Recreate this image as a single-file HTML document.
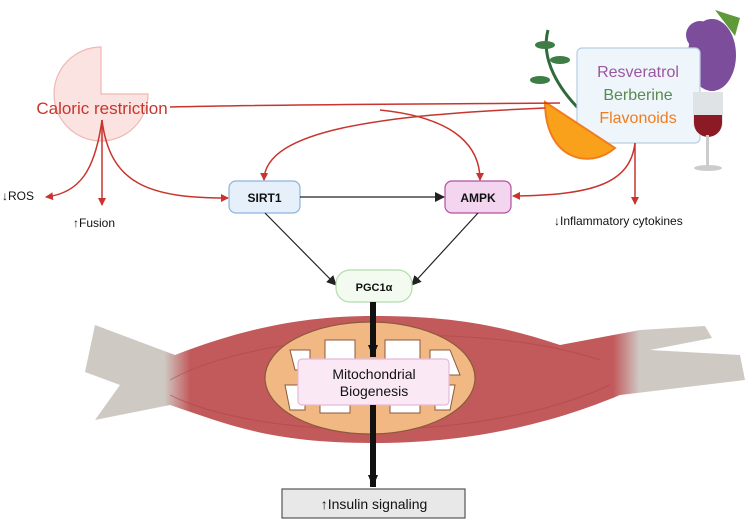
<!DOCTYPE html>
<html><head><meta charset="utf-8"><style>
body{margin:0;background:#fff;}
svg{display:block;font-family:"Liberation Sans",sans-serif;}
</style></head><body>
<svg width="751" height="521" viewBox="0 0 751 521" xmlns="http://www.w3.org/2000/svg">
<defs>
<marker id="r" markerWidth="8" markerHeight="8" refX="7" refY="4" orient="auto" markerUnits="userSpaceOnUse"><path d="M0,0 L8,4 L0,8z" fill="#c8352e"/></marker>
<marker id="k" markerWidth="10" markerHeight="10" refX="9" refY="5" orient="auto" markerUnits="userSpaceOnUse"><path d="M0,0 L10,5 L0,10z" fill="#222"/></marker>
<marker id="kb" markerWidth="14" markerHeight="14" refX="12" refY="7" orient="auto" markerUnits="userSpaceOnUse"><path d="M0,2 L12,7 L0,12z" fill="#111"/></marker>
<linearGradient id="mg" x1="0" y1="0" x2="1" y2="0">
<stop offset="0" stop-color="#cfc9c3"/><stop offset="0.12" stop-color="#cfc9c3"/><stop offset="0.16" stop-color="#c2595a"/><stop offset="0.8" stop-color="#c2595a"/><stop offset="0.84" stop-color="#cfc9c3"/><stop offset="1" stop-color="#cfc9c3"/>
</linearGradient>
</defs>

<!-- pie -->
<path d="M101,47 A47,47 0 1 0 148,94 L101,94 Z" fill="#fbe3e1" stroke="#f0b7b2" stroke-width="1.2"/>
<text x="102" y="114" font-size="17" fill="#c8352e" text-anchor="middle">Caloric restriction</text>

<!-- muscle -->
<path d="M95,325 L175,355 C240,330 300,316 373,316 C450,316 500,325 560,345 L640,330 L705,326 L712,338 L650,350 L740,355 L745,380 L620,395 C560,420 480,443 373,443 C270,443 230,425 170,405 L95,420 L120,385 L85,372 Z" fill="url(#mg)"/>
<path d="M170,380 C260,330 480,320 600,360" stroke="#a94446" stroke-width="1" fill="none" opacity="0.5"/>
<path d="M170,395 C260,440 480,445 610,385" stroke="#a94446" stroke-width="1" fill="none" opacity="0.5"/>
<!-- mitochondrion -->
<ellipse cx="370" cy="378" rx="105" ry="56" fill="#f2b883" stroke="#8b5a3c" stroke-width="1.2"/>
<path d="M290,350 h20 v20 h-15 z M325,340 h30 v25 h-30z M385,340 h35 v22 h-35z M430,350 h20 l10 25 h-30z M285,385 h20 v25 h-15z M320,395 h30 v18 h-30z M390,395 h30 v18 h-30z M435,385 h20 l-5 25 h-15z" fill="#fff" stroke="#8b5a3c" stroke-width="1"/>

<!-- compound box & decorations -->
<path d="M548,30 C540,60 560,90 580,110" stroke="#2f6b3a" stroke-width="3" fill="none"/>
<ellipse cx="545" cy="45" rx="10" ry="4" fill="#3e7d46"/>
<ellipse cx="560" cy="60" rx="10" ry="4" fill="#3e7d46"/>
<ellipse cx="540" cy="80" rx="10" ry="4" fill="#3e7d46"/>
<ellipse cx="712" cy="55" rx="24" ry="36" fill="#7b4d9a"/>
<ellipse cx="700" cy="35" rx="14" ry="14" fill="#7b4d9a"/>
<path d="M715,10 l25,8 l-5,18z" fill="#5e9a3a"/>
<rect x="577" y="48" width="123" height="95" rx="5" fill="#eef5fb" stroke="#b8cfe4" stroke-width="1.2"/>
<text x="638" y="77" font-size="16" fill="#9b56a0" text-anchor="middle">Resveratrol</text>
<text x="638" y="100" font-size="16" fill="#5a8a52" text-anchor="middle">Berberine</text>
<text x="638" y="123" font-size="16" fill="#f07d1e" text-anchor="middle">Flavonoids</text>
<path d="M545,102 L615,148 C590,170 545,160 545,102 Z" fill="#f9a11b" stroke="#f07d1e" stroke-width="2"/>
<path d="M693,92 h30 v30 a15,15 0 0 1 -30,0z" fill="#dfe3e6"/>
<path d="M694,115 h28 v8 a14,14 0 0 1 -28,0z" fill="#8b1a25"/>
<rect x="706" y="135" width="3" height="32" fill="#ccc"/>
<ellipse cx="708" cy="168" rx="14" ry="3" fill="#ccc"/>

<!-- red arrows -->
<path d="M170,107 C300,104 450,104 560,103" stroke="#c8352e" stroke-width="1.5" fill="none"/>
<path d="M545,108 C380,115 265,130 264,180" stroke="#c8352e" stroke-width="1.5" fill="none" marker-end="url(#r)"/>
<path d="M380,110 C460,118 480,150 480,180" stroke="#c8352e" stroke-width="1.5" fill="none" marker-end="url(#r)"/>
<path d="M102,120 C95,170 80,193 46,197" stroke="#c8352e" stroke-width="1.5" fill="none" marker-end="url(#r)"/>
<path d="M102,120 L102,205" stroke="#c8352e" stroke-width="1.5" fill="none" marker-end="url(#r)"/>
<path d="M102,120 C110,185 150,198 228,198" stroke="#c8352e" stroke-width="1.5" fill="none" marker-end="url(#r)"/>
<path d="M635,143 C630,185 590,195 513,196" stroke="#c8352e" stroke-width="1.5" fill="none" marker-end="url(#r)"/>
<path d="M635,143 L635,204" stroke="#c8352e" stroke-width="1.5" fill="none" marker-end="url(#r)"/>

<text x="2" y="200" font-size="12" fill="#111">↓ROS</text>
<text x="73" y="227" font-size="12" fill="#111">↑Fusion</text>
<text x="554" y="225" font-size="12" fill="#111">↓Inflammatory cytokines</text>

<!-- nodes -->
<rect x="229" y="181" width="71" height="32" rx="7" fill="#e6f0fb" stroke="#8fb2dc" stroke-width="1.2"/>
<text x="264.5" y="202" font-size="12" font-weight="bold" text-anchor="middle" fill="#111">SIRT1</text>
<rect x="445" y="181" width="66" height="32" rx="7" fill="#f4d5ef" stroke="#b1519f" stroke-width="1.2"/>
<text x="478" y="202" font-size="12" font-weight="bold" text-anchor="middle" fill="#111">AMPK</text>
<path d="M300,197 L444,197" stroke="#222" stroke-width="1.2" marker-end="url(#k)"/>
<path d="M265,213 L336,285" stroke="#222" stroke-width="1.2" marker-end="url(#k)"/>
<path d="M478,213 L412,285" stroke="#222" stroke-width="1.2" marker-end="url(#k)"/>
<rect x="336" y="270" width="76" height="32" rx="14" fill="#f3fbf1" stroke="#b4dcae" stroke-width="1.2"/>
<text x="374" y="291" font-size="11" font-weight="bold" text-anchor="middle" fill="#111">PGC1α</text>

<path d="M373,302 L373,357" stroke="#111" stroke-width="6" marker-end="url(#kb)"/>
<rect x="298" y="359" width="151" height="46" rx="4" fill="#fbe8f5" stroke="#e7b9d7" stroke-width="1.2"/>
<text x="374" y="379" font-size="14" text-anchor="middle" fill="#111">Mitochondrial</text>
<text x="374" y="396" font-size="14" text-anchor="middle" fill="#111">Biogenesis</text>
<path d="M373,405 L373,487" stroke="#111" stroke-width="6" marker-end="url(#kb)"/>
<rect x="282" y="489" width="183" height="29" fill="#e8e8e8" stroke="#555" stroke-width="1.2"/>
<text x="374" y="509" font-size="14" text-anchor="middle" fill="#111">↑Insulin signaling</text>
</svg>
</body></html>
